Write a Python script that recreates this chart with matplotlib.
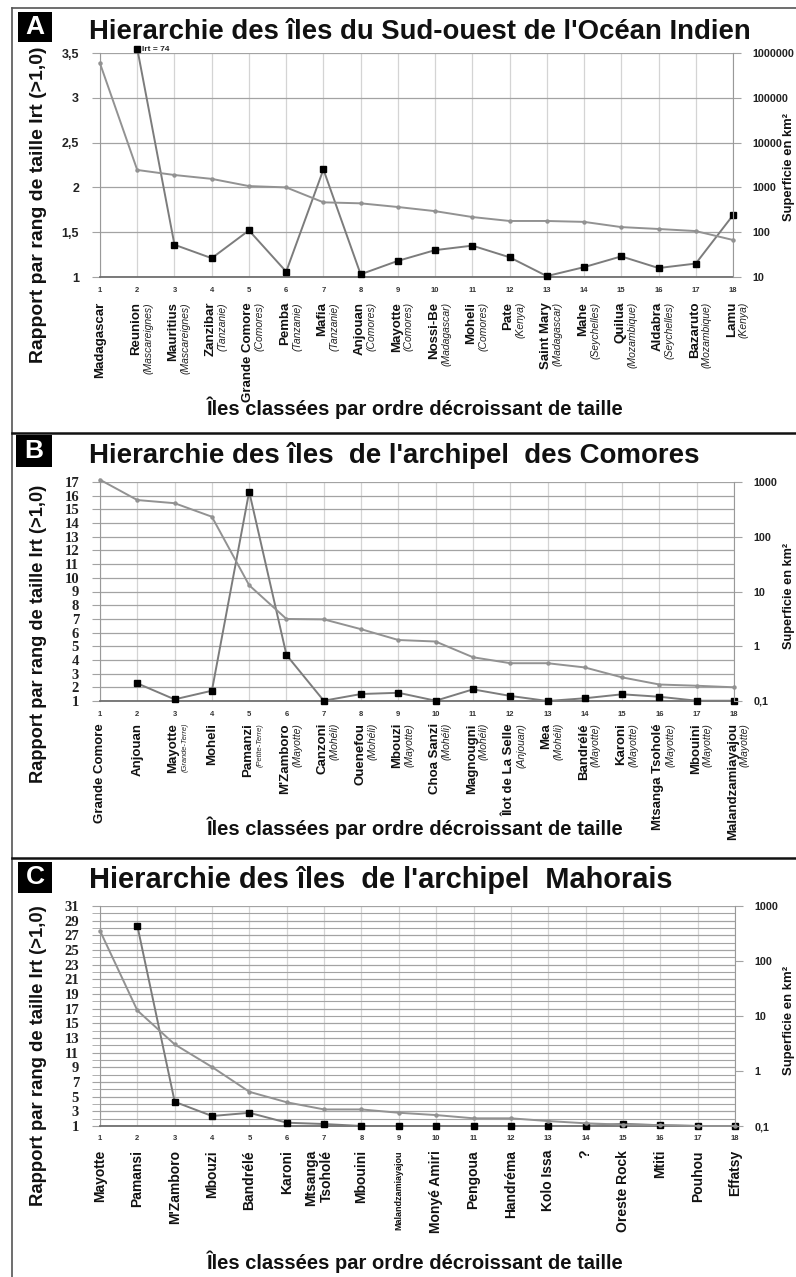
import numpy as np
import matplotlib
matplotlib.use('Agg')
import matplotlib.pyplot as plt
from matplotlib.patches import Rectangle
from matplotlib.lines import Line2D
from matplotlib.ticker import NullLocator

SANS = 'Liberation Sans'
SERIF = 'Liberation Serif'
plt.rcParams['font.family'] = [SANS, 'DejaVu Sans']

# ---------------- DATA ----------------
rank = list(range(1, 19))

names_a = ['Madagascar', 'Reunion', 'Mauritius', 'Zanzibar', 'Grande Comore', 'Pemba', 'Mafia',
           'Anjouan', 'Mayotte', 'Nossi-Be', 'Moheli', 'Pate', 'Saint Mary', 'Mahe', 'Quilua',
           'Aldabra', 'Bazaruto', 'Lamu']
regions_a = ['', '(Mascareignes)', '(Mascareignes)', '(Tanzanie)', '(Comores)', '(Tanzanie)',
             '(Tanzanie)', '(Comores)', '(Comores)', '(Madagascar)', '(Comores)', '(Kenya)',
             '(Madagascar)', '(Seychelles)', '(Mozambique)', '(Seychelles)', '(Mozambique)', '(Kenya)']
area_a = [587000, 2450, 1890, 1550, 1070, 1000, 464, 441, 365, 295, 218, 178, 178, 170, 130, 118, 106, 67]
irt_a = [np.nan, 74, 1.36, 1.21, 1.52, 1.06, 2.2, 1.03, 1.18, 1.30, 1.35, 1.22, 1.01, 1.11, 1.23, 1.10, 1.15, 1.69]

names_b = ['Grande Comore', 'Anjouan', 'Mayotte', 'Moheli', 'Pamanzi', "M'Zamboro", 'Canzoni',
           'Ouenefou', 'Mbouzi', 'Choa Sanzi', 'Magnougni', 'Îlot de La Selle', 'Mea', 'Bandrélé',
           'Karoni', 'Mtsanga Tsoholé', 'Mbouini', 'Malandzamiayajou']
regions_b = ['', '', '(Grande-Terre)', '', '(Petite-Terre)', '(Mayotte)', '(Mohéli)', '(Mohéli)',
             '(Mayotte)', '(Mohéli)', '(Mohéli)', '(Anjouan)', '(Mohéli)', '(Mayotte)', '(Mayotte)',
             '(Mayotte)', '(Mayotte)', '(Mayotte)']
area_b = [1100, 468, 410, 232, 13, 3.15, 3.1, 2.05, 1.3, 1.22, 0.63, 0.49, 0.49, 0.41, 0.27, 0.2, 0.19, 0.178]
irt_b = [np.nan, 2.29, 1.12, 1.75, 16.3, 4.36, 1.02, 1.51, 1.6, 1.02, 1.85, 1.37, 1.0, 1.2, 1.49, 1.31, 1.02, 1.02]

names_c = ['Mayotte', 'Pamansi', "M'Zamboro", 'Mbouzi', 'Bandrélé', 'Karoni', 'Mtsanga\nTsoholé',
           'Mbouini', 'Malandzamiayajou', 'Monyé Amiri', 'Pengoua', 'Handréma', 'Kolo Issa', '?',
           'Oreste Rock', 'Mtiti', 'Pouhou', 'Effatsy']
area_c = [355, 12.6, 3.05, 1.18, 0.418, 0.27, 0.2, 0.2, 0.174, 0.158, 0.138, 0.138, 0.123, 0.112,
          0.106, 0.104, 0.1, 0.1]
irt_c = [np.nan, 28.3, 4.3, 2.36, 2.8, 1.45, 1.27, 1.0, 1.0, 1.0, 1.0, 1.0, 1.0, 1.0, 1.3, 1.1, 1.0, 1.0]

titles = ["Hierarchie des îles du Sud-ouest de l'Océan Indien",
          "Hierarchie des îles  de l'archipel  des Comores",
          "Hierarchie des îles  de l'archipel  Mahorais"]
ylabel = 'Rapport par rang de taille Irt (>1,0)'
xlabel = 'Îles classées par ordre décroissant de taille'
rlabel = 'Superficie en km²'

# ---------------- FIGURE ----------------
W, H = 796, 1277
fig = plt.figure(figsize=(W / 100, H / 100), dpi=100)
fig.patch.set_facecolor('white')
renderer = fig.canvas.get_renderer()


def fx(px):
    return px / W


def fy(py):
    return 1 - py / H


def fit(t, target, horizontal=True):
    bb = t.get_window_extent(renderer)
    cur = bb.width if horizontal else bb.height
    t.set_fontsize(t.get_fontsize() * target / cur)


GRID = '#a3a3a3'
VGRID = '#d4d4d4'
LINE_IRT = '#7c7c7c'
LINE_AREA = '#929292'


def panel(box, ylim, yticks, ylabels_, yminor, rlim, rticks, rlabels, names, regions,
          area, irt, name_fs, reg_fs, num_dy, name_dy, tick_family, tick_fs, clip_top=None):
    left, top, right, bottom = box
    ax = fig.add_axes([fx(left), fy(bottom), fx(right) - fx(left), fy(top) - fy(bottom)])
    ax.set_xlim(1, 18)
    ax.set_ylim(*ylim)
    ax.set_xticks(rank)
    ax.set_xticklabels([])
    ax.tick_params(axis='x', length=0)
    ax.set_yticks(yticks, ylabels_)
    if yminor is not None:
        ax.set_yticks(yminor, minor=True)
        ax.grid(which='minor', axis='y', color=GRID, lw=0.8)
        ax.tick_params(axis='y', which='minor', length=6, color=GRID)
    ax.grid(which='major', axis='y', color=GRID, lw=0.9)
    ax.grid(which='major', axis='x', color=VGRID, lw=0.9)
    ax.set_axisbelow(True)
    ax.tick_params(axis='y', which='major', length=6, color=GRID, pad=9)
    for lab in ax.get_yticklabels():
        lab.set_fontfamily(tick_family)
        lab.set_fontweight('bold')
        lab.set_fontsize(tick_fs)
        lab.set_color('#222222')
    for s in ('top', 'right'):
        ax.spines[s].set_visible(False)
    ax.spines['left'].set_color('#999999')
    ax.spines['bottom'].set_color('#6f6f6f')
    ax.spines['bottom'].set_linewidth(1.3)

    ax2 = ax.twinx()
    ax2.set_yscale('log')
    ax2.set_ylim(*rlim)
    ax2.set_yticks(rticks, rlabels)
    ax2.yaxis.set_minor_locator(NullLocator())
    ax2.tick_params(axis='y', length=6, color=GRID, pad=8, labelsize=7.8)
    for lab in ax2.get_yticklabels():
        lab.set_fontweight('bold')
        lab.set_color('#222222')
    for s in ('top', 'left', 'bottom'):
        ax2.spines[s].set_visible(False)
    ax2.spines['right'].set_color('#999999')

    # area line (right log axis)
    ax2.plot(rank, area, color=LINE_AREA, lw=1.4, marker='o', ms=2.2, mfc=LINE_AREA,
             mec=LINE_AREA, clip_on=False, zorder=3)
    # Irt line (left axis)
    irt_arr = np.array(irt, dtype=float)
    shown = irt_arr if clip_top is None else np.minimum(irt_arr, clip_top)
    ax.plot(rank, shown, color=LINE_IRT, lw=1.4, marker='s', ms=5, mfc='black', mec='black',
            clip_on=False, zorder=4)

    for i, x in enumerate(rank):
        ax.annotate(str(x), xy=(x, 0), xycoords=('data', 'axes fraction'), xytext=(0, -num_dy),
                    textcoords='offset pixels', ha='center', va='center', fontsize=5.5,
                    fontweight='bold', color='#333333', annotation_clip=False)
        reg = regions[i] if regions is not None else ''
        if reg:
            ax.annotate(names[i], xy=(x, 0), xycoords=('data', 'axes fraction'),
                        xytext=(-1, -name_dy), textcoords='offset pixels', rotation=90,
                        ha='center', va='top', fontsize=name_fs[i], fontweight='bold',
                        color='#111111', annotation_clip=False)
            small = reg_fs * (0.72 if 'Terre' in reg else 1.0)
            ax.annotate(reg, xy=(x, 0), xycoords=('data', 'axes fraction'),
                        xytext=(11, -name_dy), textcoords='offset pixels', rotation=90,
                        ha='center', va='top', fontsize=small, style='italic',
                        color='#222222', annotation_clip=False)
        else:
            ax.annotate(names[i], xy=(x, 0), xycoords=('data', 'axes fraction'),
                        xytext=(0 if '\n' not in names[i] else -5, -name_dy),
                        textcoords='offset pixels', rotation=90, ha='center', va='top',
                        multialignment='right', fontsize=name_fs[i], fontweight='bold',
                        color='#111111', annotation_clip=False)
    return ax, ax2


# ---------------- PANEL A ----------------
fs_a = [9.5] * 18
ax_a, ax2_a = panel((100, 53, 733, 277), (1, 3.5), [1, 1.5, 2, 2.5, 3, 3.5],
                    ['1', '1,5', '2', '2,5', '3', '3,5'], None,
                    (10, 1e6), [10, 100, 1000, 10000, 100000, 1000000],
                    ['10', '100', '1000', '10000', '100000', '1000000'],
                    names_a, regions_a, area_a, irt_a, fs_a, 7.5, 13, 25, SANS, 9,
                    clip_top=3.55)
ax_a.annotate('Irt = %d' % irt_a[1], xy=(2, 3.55), xycoords='data', xytext=(5, -1),
              textcoords='offset pixels', ha='left', va='center', fontsize=6,
              fontweight='bold', color='#222222', annotation_clip=False)

# ---------------- PANEL B ----------------
fs_b = [9.5] * 18
ax_b, ax2_b = panel((100, 482, 734, 701), (1, 17), list(range(1, 18)),
                    [str(v) for v in range(1, 18)], None,
                    (0.1, 1000), [0.1, 1, 10, 100, 1000], ['0,1', '1', '10', '100', '1000'],
                    names_b, regions_b, area_b, irt_b, fs_b, 7.5, 14, 22, SERIF, 10.5)

# ---------------- PANEL C ----------------
fs_c = [10] * 18
fs_c[8] = 6.5
ax_c, ax2_c = panel((100, 906, 735, 1126), (1, 31), list(range(1, 32, 2)),
                    [str(v) for v in range(1, 32, 2)], list(range(2, 31, 2)),
                    (0.1, 1000), [0.1, 1, 10, 100, 1000], ['0,1', '1', '10', '100', '1000'],
                    names_c, None, area_c, irt_c, fs_c, 7.5, 12, 24, SERIF, 10.5)

# ---------------- TEXTS ----------------
title_geo = [(39, 660), (463, 609), (888, 584)]
ylab_geo = [(205, 316), (634, 298), (1056, 302)]
xlab_y = [408, 828, 1262]
rlab_geo = [(167, 109), (596, 107), (1020, 110)]
box_geo = [(18, 12, 34, 30), (16, 435, 36, 32), (18, 862, 34, 31)]
letters = ['A', 'B', 'C']

for k in range(3):
    t = fig.text(fx(89), fy(title_geo[k][0]), titles[k], ha='left', va='baseline',
                 fontsize=20, fontweight='bold', color='#111111')
    fit(t, title_geo[k][1])
    t = fig.text(fx(39), fy(ylab_geo[k][0]), ylabel, rotation=90, ha='center', va='center',
                 fontsize=14, fontweight='bold', color='#111111')
    fit(t, ylab_geo[k][1], horizontal=False)
    t = fig.text(fx(415), fy(xlab_y[k]), xlabel, ha='center', va='center', fontsize=14,
                 fontweight='bold', color='#111111')
    fit(t, 416)
    t = fig.text(fx(789), fy(rlab_geo[k][0]), rlabel, rotation=90, ha='center', va='center',
                 fontsize=8, fontweight='bold', color='#111111')
    fit(t, rlab_geo[k][1], horizontal=False)
    bx, by, bw, bh = box_geo[k]
    fig.patches.append(Rectangle((fx(bx), fy(by + bh)), bw / W, bh / H, transform=fig.transFigure,
                                 facecolor='black', edgecolor='none', zorder=5))
    fig.text(fx(bx + bw / 2), fy(by + bh / 2), letters[k], ha='center', va='center',
             fontsize=19, fontweight='bold', color='white', zorder=6)

# frames
fig.lines.append(Line2D([fx(12.5), fx(12.5)], [fy(8), fy(1277)], transform=fig.transFigure,
                        color='#555555', lw=1.2))
fig.lines.append(Line2D([fx(12), fx(796)], [fy(8), fy(8)], transform=fig.transFigure,
                        color='#555555', lw=1.2))
for ysep in (433, 858):
    fig.lines.append(Line2D([fx(12), fx(796)], [fy(ysep), fy(ysep)], transform=fig.transFigure,
                            color='#111111', lw=1.8))

fig.savefig('out.png', dpi=100, facecolor='white')
